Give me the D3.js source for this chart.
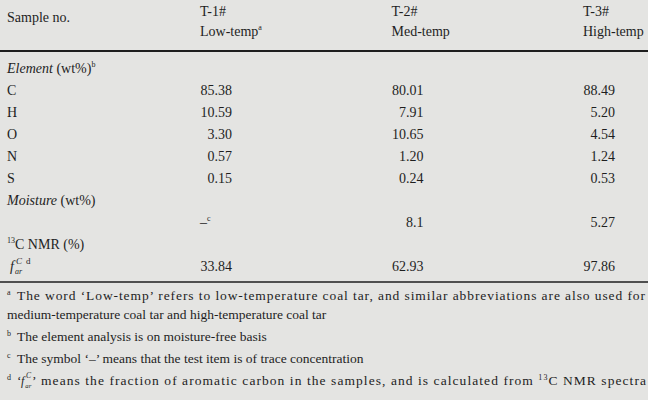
<!DOCTYPE html>
<html><head><meta charset="utf-8">
<script src="https://cdn.jsdelivr.net/npm/d3@7"></script>
<style>
body{margin:0;background:#e4e4e2}
svg text{font-family:"Liberation Serif","Times New Roman","Nimbus Roman","DejaVu Serif",serif;fill:#1e1e1e}
</style></head><body>
<script>
// data
const samples = ["T-1#", "T-2#", "T-3#"];
const sampleTypes = ["Low-temp", "Med-temp", "High-temp"];
const elements = ["C", "H", "O", "N", "S"];
const elementValues = [
  ["85.38", "80.01", "88.49"],
  ["10.59", "7.91", "5.20"],
  ["3.30", "10.65", "4.54"],
  ["0.57", "1.20", "1.24"],
  ["0.15", "0.24", "0.53"]
];
const moisture = ["–", "8.1", "5.27"];
const far = ["33.84", "62.93", "97.86"];
const footnotes = [
  ["a", "The word ‘Low-temp’ refers to low-temperature coal tar, and similar abbreviations are also used for"],
  [null, "medium-temperature coal tar and high-temperature coal tar"],
  ["b", "The element analysis is on moisture-free basis"],
  ["c", "The symbol ‘–’ means that the test item is of trace concentration"],
  ["d", null]
];

const W = 648, H = 400;
const svg = d3.select("body").append("svg").attr("width", W).attr("height", H).style("font-size", "14px");

const colLeft = d3.scalePoint().domain(samples).range([200, 583]);
const colRight = d3.scalePoint().domain(samples).range([232, 615]);
const rowY = d3.scaleLinear().domain([0, 1]).range([73, 95]); // row index -> baseline

// header
svg.append("text").attr("x", 7).attr("y", 22).text("Sample no.");
const hd = svg.selectAll("g.hd").data(samples).join("g").attr("class", "hd");
hd.append("text").attr("x", d => colLeft(d)).attr("y", 16).text(d => d);
hd.append("text").attr("x", d => colLeft(d)).attr("y", 36).each(function(d, i) {
  const t = d3.select(this);
  t.append("tspan").text(sampleTypes[i]);
  if (i === 0) t.append("tspan").attr("dy", -6).style("font-size", "8px").text("a");
});
svg.append("line").attr("x1", 0).attr("x2", W).attr("y1", 51).attr("y2", 51).attr("stroke", "#1e1e1e").attr("stroke-width", 2);

function section(i, italic, rest, sup) {
  const t = svg.append("text").attr("x", 7).attr("y", rowY(i));
  if (italic) t.append("tspan").style("font-style", "italic").text(italic);
  t.append("tspan").text(rest);
  if (sup) t.append("tspan").attr("dy", -6).style("font-size", "8px").text(sup);
}
function valueRow(i, label, vals) {
  const g = svg.append("g");
  if (label) g.append("text").attr("x", 7).attr("y", rowY(i)).text(label);
  g.selectAll("text.v").data(vals).join("text").attr("class", "v")
    .attr("x", (d, j) => colRight(samples[j])).attr("y", rowY(i))
    .attr("text-anchor", "end").text(d => d);
  return g;
}

section(0, "Element", " (wt%)", "b");
elements.forEach((e, k) => valueRow(k + 1, e, elementValues[k]));
section(6, "Moisture", " (wt%)");
const mg = valueRow(7, null, moisture);
mg.select("text.v").attr("x", colLeft(samples[0])).attr("text-anchor", "start")
  .append("tspan").attr("dy", -6).style("font-size", "8px").text("c");

// 13C NMR
const nm = svg.append("text").attr("x", 7).attr("y", rowY(8));
nm.append("tspan").attr("dy", -6).style("font-size", "8px").text("13");
nm.append("tspan").attr("dy", 6).text("C NMR (%)");
valueRow(9, null, far);
// f_ar^C symbol, drawn as separate small texts
function farSymbol(x, y, big) {
  const s = big ? 1 : 0.85;
  svg.append("text").attr("x", x).attr("y", y).style("font-style", "italic").style("font-size", 14 * s + "px").text("f");
  svg.append("text").attr("x", x + 5 * s).attr("y", y + 3).style("font-style", "italic").style("font-size", 8 * s + "px").text("ar");
  svg.append("text").attr("x", x + 6 * s).attr("y", y - 7).style("font-style", "italic").style("font-size", 9 * s + "px").text("C");
}
farSymbol(10, rowY(9), true);
svg.append("text").attr("x", 26).attr("y", rowY(9) - 7).style("font-size", "9px").text("d");

svg.append("line").attr("x1", 0).attr("x2", W).attr("y1", 282).attr("y2", 282).attr("stroke", "#1e1e1e").attr("stroke-width", 1.3);

// footnotes
const fy = d3.scaleLinear().domain([0, 1]).range([300, 319]);
const fnY = [0, 1, 2.15, 3.3, 4.45];
footnotes.forEach(([m, txt], k) => {
  const y = fy(fnY[k]);
  if (m) svg.append("text").attr("x", 7).attr("y", y - 5).style("font-size", "8px").text(m);
  if (k === 4) {
    svg.append("text").attr("x", 17).attr("y", y).style("font-size", "13.5px").text("‘");
    farSymbol(21, y, false);
    const t = svg.append("text").attr("x", 32).attr("y", y).style("font-size", "13.5px");
    t.append("tspan").text("’ means the fraction of aromatic carbon in the samples, and is calculated from ");
    t.append("tspan").attr("dy", -5).style("font-size", "8px").text("13");
    t.append("tspan").attr("dy", 5).text("C NMR spectra");
    t.attr("textLength", 614).attr("lengthAdjust", "spacing");
  } else {
    const t = svg.append("text").attr("x", m ? 17 : 7).attr("y", y).style("font-size", "13.5px").text(txt);
    if (k === 0) t.attr("textLength", 628).attr("lengthAdjust", "spacing");
  }
});
</script>
</body></html>
